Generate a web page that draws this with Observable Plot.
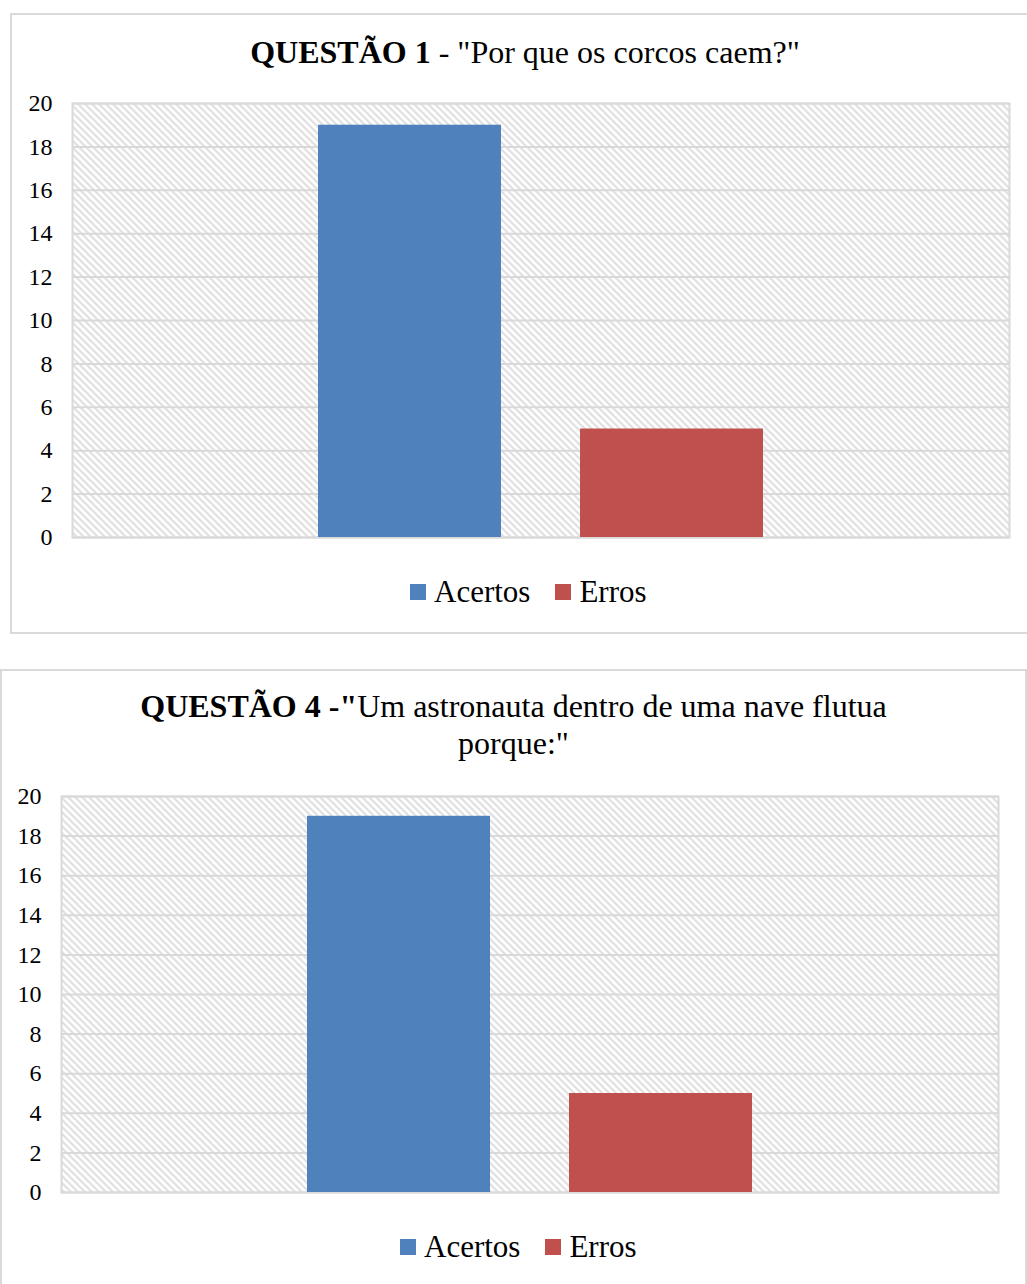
<!DOCTYPE html>
<html>
<head>
<meta charset="utf-8">
<script src="https://cdn.jsdelivr.net/npm/d3@7"></script>
<script src="https://cdn.jsdelivr.net/npm/@observablehq/plot@0.6"></script>
<style>
  html, body { margin: 0; padding: 0; background: #fff; }
  body { width: 1027px; height: 1284px; position: relative; overflow: hidden; font-family: "Liberation Serif", "Times New Roman", serif; color: #000; }
  .box { position: absolute; border: 2px solid #d9d9d9; box-sizing: border-box; }
  .title { position: absolute; text-align: center; font-size: 32px; line-height: 37px; white-space: nowrap; }
  .title b { font-weight: bold; }
  .chart { position: absolute; }
  .legend { position: absolute; display: flex; align-items: center; font-size: 31px; line-height: 36px; white-space: nowrap; }
  .legend .item { display: flex; align-items: center; margin-right: 25px; }
  .legend .sw { width: 16px; height: 16px; margin-right: 8px; }
  .chart svg text { font-family: "Liberation Serif", "Times New Roman", serif !important; font-size: 24px !important; fill: #000; }
</style>
</head>
<body>
<div class="box" style="left:10px; top:13px; width:1030px; height:621px;"></div>
<div class="box" style="left:0px; top:669px; width:1027px; height:640px;"></div>

<div class="title" id="t1" style="left:10px; top:34px; width:1030px;"></div>
<div class="chart" id="c1" style="left:10px; top:85px;"></div>
<div class="legend" id="l1" style="left:410px; top:574px;"></div>

<div class="title" id="t2" style="left:0px; top:688px; width:1027px;"></div>
<div class="chart" id="c2" style="left:0px; top:778px;"></div>
<div class="legend" id="l2" style="left:400px; top:1229px;"></div>

<script>
// ---- Data ----
const categories = ["Acertos", "Erros"];
const q1Values = [19, 5];
const q4Values = [19, 5];
const yTicks = [0, 2, 4, 6, 8, 10, 12, 14, 16, 18, 20];
const colors = ["#4f81bd", "#c0504d"];
const title1Bold = "QUESTÃO 1";
const title1Rest = " - \"Por que os corcos caem?\"";
const title2Bold = "QUESTÃO 4 -\"";
const title2Line1 = "Um astronauta dentro de uma nave flutua";
const title2Line2 = "porque:\"";

function addHatch(svg, id) {
  const s = d3.select(svg);
  const defs = s.insert("defs", ":first-child");
  const p = defs.append("pattern")
    .attr("id", id)
    .attr("patternUnits", "userSpaceOnUse")
    .attr("width", 7).attr("height", 7);
  p.append("rect").attr("width", 7).attr("height", 7).attr("fill", "#ffffff");
  p.append("path")
    .attr("d", "M-2,-2L9,9M-2,5L2,9M5,-2L9,2")
    .attr("stroke", "#d6d6d6")
    .attr("stroke-width", 1.6);
}

function makeChart(values, opts, hatchId) {
  const data = categories.map((c, i) => ({cat: c, value: values[i]}));
  const svg = Plot.plot({
    width: opts.width,
    height: opts.height,
    marginLeft: opts.marginLeft,
    marginRight: 10,
    marginTop: 18,
    marginBottom: 10,
    style: {fontFamily: "Liberation Serif, serif", fontSize: "24px", color: "#000", overflow: "visible"},
    x: {domain: categories, axis: null, paddingInner: 0.3004, paddingOuter: 0.9316},
    y: {domain: [0, 20], ticks: yTicks, tickSize: 0, tickPadding: 20, label: null, tickFormat: d => String(d)},
    color: {domain: categories, range: colors},
    marks: [
      Plot.frame({fill: "url(#" + hatchId + ")", stroke: null}),
      Plot.gridY(yTicks, {stroke: "#d9d9d9", strokeOpacity: 1, strokeWidth: 2}),
      Plot.frame({stroke: "#d9d9d9", strokeWidth: 2}),
      Plot.barY(data, {x: "cat", y: "value", fill: "cat"})
    ]
  });
  addHatch(svg, hatchId);
  d3.select(svg).selectAll("text")
    .style("font-family", "'Liberation Serif', serif")
    .style("font-size", "24px")
    .attr("fill", "#000");
  return svg;
}

function makeLegend(el) {
  categories.forEach((c, i) => {
    const item = document.createElement("div");
    item.className = "item";
    const sw = document.createElement("div");
    sw.className = "sw";
    sw.style.background = colors[i];
    const t = document.createElement("span");
    t.textContent = c;
    item.appendChild(sw);
    item.appendChild(t);
    el.appendChild(item);
  });
}

// Titles
const t1 = document.getElementById("t1");
const b1 = document.createElement("b"); b1.textContent = title1Bold;
t1.appendChild(b1); t1.appendChild(document.createTextNode(title1Rest));

const t2 = document.getElementById("t2");
const b2 = document.createElement("b"); b2.textContent = title2Bold;
t2.appendChild(b2); t2.appendChild(document.createTextNode(title2Line1));
t2.appendChild(document.createElement("br"));
t2.appendChild(document.createTextNode(title2Line2));

document.getElementById("c1").appendChild(makeChart(q1Values, {width: 1009, height: 462, marginLeft: 62}, "hatch1"));
document.getElementById("c2").appendChild(makeChart(q4Values, {width: 1008, height: 424, marginLeft: 61}, "hatch2"));

makeLegend(document.getElementById("l1"));
makeLegend(document.getElementById("l2"));
</script>
</body>
</html>
